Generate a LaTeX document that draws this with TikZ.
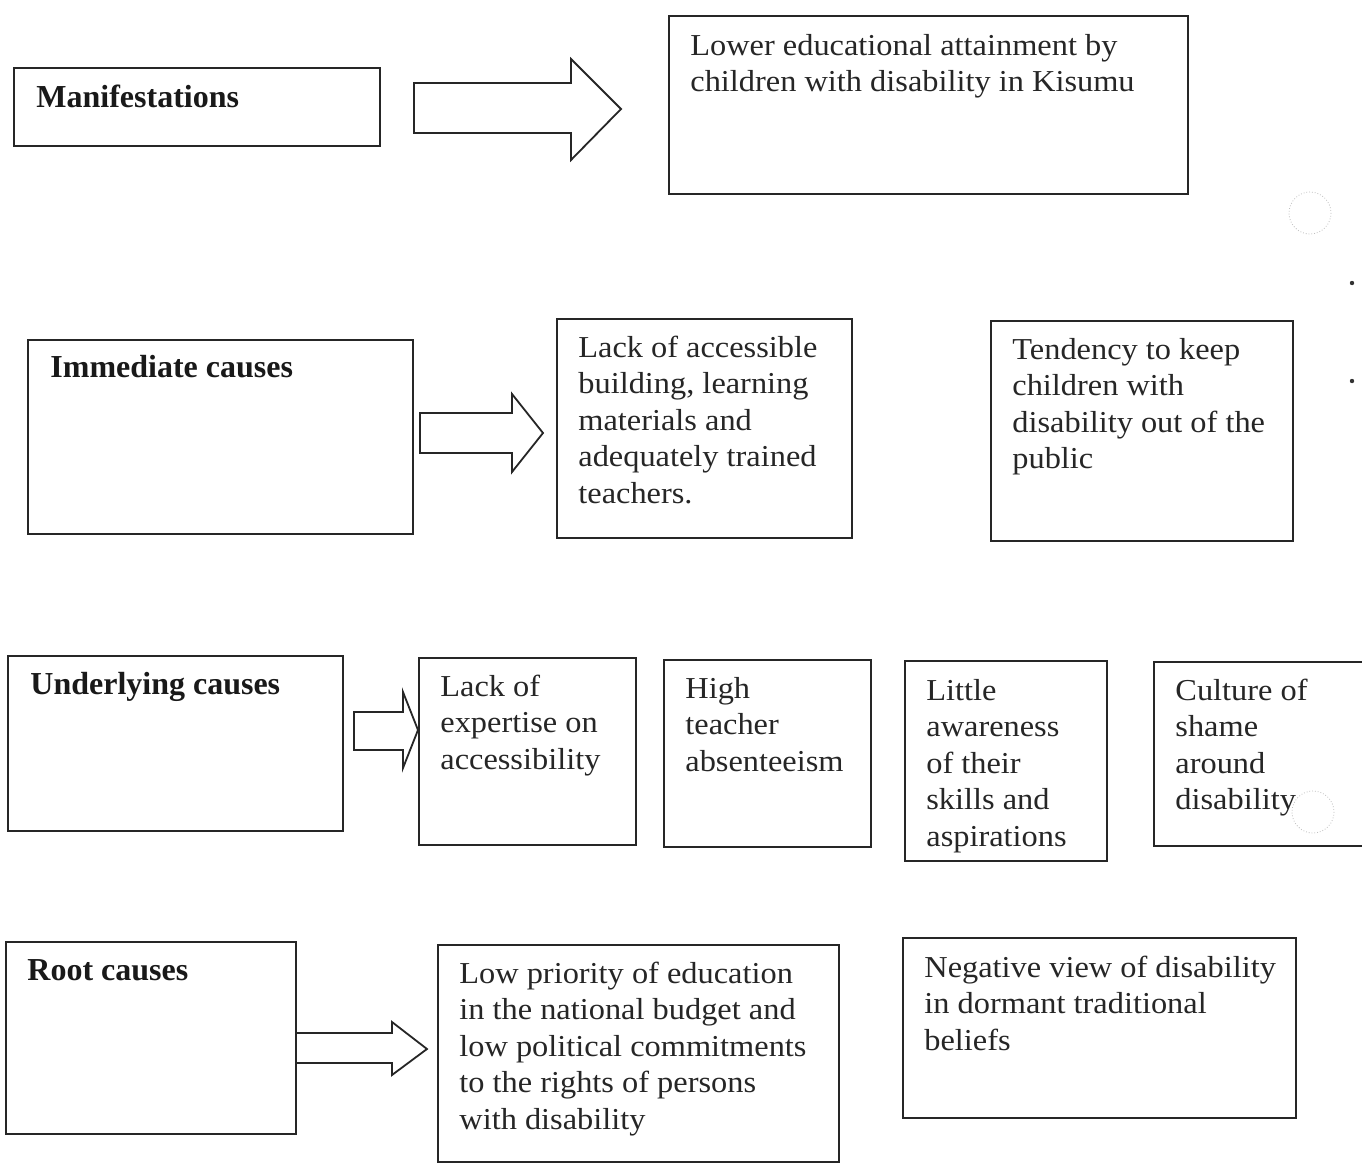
\documentclass[tikz,border=0pt]{standalone}
\usepackage{fontspec}
\setmainfont{Liberation Serif}
\newfontfamily\bodyfont{Liberation Serif}[FakeStretch=1.065]
\begin{document}
\begin{tikzpicture}[x=0.5pt,y=-0.5pt,
  box/.style={draw=black!85, line width=0.9pt, anchor=north west, inner sep=0pt, rectangle},
  lbl/.style={anchor=base west, inner sep=0pt, font=\fontsize{16}{19}\selectfont\bfseries, text=black!90},
  txt/.style={anchor=north west, inner sep=0pt, align=left, font=\bodyfont\fontsize{15.2}{18.25}\selectfont, text=black!85},
  blockarrow/.style={draw=black!85, line width=0.9pt, fill=white, line join=miter},
  speck/.style={draw=black!25, line width=0.4pt, densely dotted}]
\useasboundingbox (0,0) rectangle (1362,1163);
\fill[white] (0,0) rectangle (1362,1163);

% ---- Row 1: Manifestations
\node[box, minimum width=183pt, minimum height=39pt] (man) at (13,67) {};
\node[lbl] (manL) at (36,107) {Manifestations};
\node[box, minimum width=259.5pt, minimum height=89pt] (lower) at (668,15) {};
\node[txt] (lowerT) at (690,29.5) {\strut Lower educational attainment by\\children with disability in Kisumu};
\draw[blockarrow] (414,83) -- (571,83) -- (571,59) -- (621,109) -- (571,160) -- (571,133) -- (414,133) -- cycle;

% ---- Row 2: Immediate causes
\node[box, minimum width=192.5pt, minimum height=97pt] (imm) at (27,339) {};
\node[lbl] (immL) at (50,377) {Immediate causes};
\node[box, minimum width=147.5pt, minimum height=109.5pt] (lack) at (556,318) {};
\node[txt] (lackT) at (578,331.5) {\strut Lack of accessible\\building, learning\\materials and\\adequately trained\\teachers.};
\node[box, minimum width=151pt, minimum height=110pt] (tend) at (990,320) {};
\node[txt] (tendT) at (1012,333.5) {\strut Tendency to keep\\children with\\disability out of the\\public};
\draw[blockarrow] (420,413) -- (512,413) -- (512,394) -- (543,433) -- (512,472) -- (512,453) -- (420,453) -- cycle;

% ---- Row 3: Underlying causes
\node[box, minimum width=167.5pt, minimum height=87.5pt] (und) at (7,655) {};
\node[lbl] (undL) at (30,694) {Underlying causes};
\node[box, minimum width=108.5pt, minimum height=93.5pt] (exp) at (418,657) {};
\node[txt] (expT) at (440,670.5) {\strut Lack of\\expertise on\\accessibility};
\node[box, minimum width=103.5pt, minimum height=93.5pt] (high) at (663,659) {};
\node[txt] (highT) at (685,672.5) {\strut High\\teacher\\absenteeism};
\node[box, minimum width=101pt, minimum height=100pt] (little) at (904,660) {};
\node[txt] (littleT) at (926,674.5) {\strut Little\\awareness\\of their\\skills and\\aspirations};
\node[box, minimum width=123.5pt, minimum height=92pt] (cult) at (1153,661) {};
\node[txt] (cultT) at (1175,674.5) {\strut Culture of\\shame\\around\\disability};
\draw[blockarrow] (354,712) -- (403,712) -- (403,692) -- (418,730) -- (403,768) -- (403,750) -- (354,750) -- cycle;

% ---- Row 4: Root causes
\node[box, minimum width=145pt, minimum height=96pt] (root) at (5,941) {};
\node[lbl] (rootL) at (27,980) {Root causes};
\node[box, minimum width=200.5pt, minimum height=108.5pt] (lowp) at (437,944) {};
\node[txt] (lowpT) at (459,957.5) {\strut Low priority of education\\in the national budget and\\low political commitments\\to the rights of persons\\with disability};
\node[box, minimum width=196.5pt, minimum height=90pt] (neg) at (902,937) {};
\node[txt] (negT) at (924,951.5) {\strut Negative view of disability\\in dormant traditional\\beliefs};
\draw[blockarrow, fill=none] (295,1033) -- (392,1033) -- (392,1022) -- (427,1049) -- (392,1075) -- (392,1063) -- (295,1063);

% ---- scan specks
\draw[speck] (1310,213) circle[radius=21];
\draw[speck] (1313,812) circle[radius=21];
\fill[black!80] (1352,283) circle[radius=2.2];
\fill[black!80] (1352,381) circle[radius=2.2];
\end{tikzpicture}
\end{document}
